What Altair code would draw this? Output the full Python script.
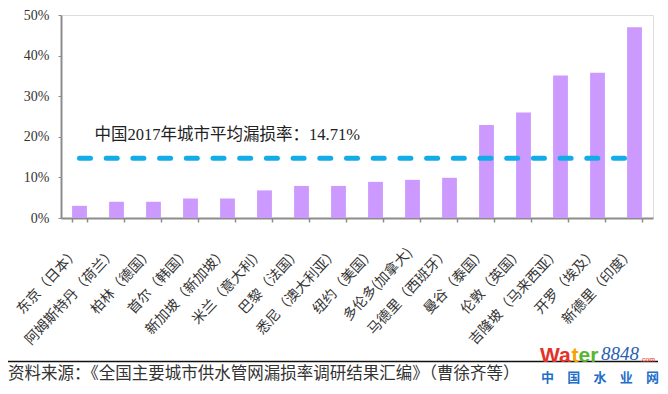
import altair as alt
import pandas as pd

cities = ["东京（日本）", "阿姆斯特丹（荷兰）", "柏林（德国）", "首尔（韩国）",
          "新加坡（新加坡）", "米兰（意大利）", "巴黎（法国）", "悉尼（澳大利亚）",
          "纽约（美国）", "多伦多(加拿大)", "马德里（西班牙）", "曼谷（泰国）",
          "伦敦（英国）", "吉隆坡（马来西亚）", "开罗（埃及）", "新德里（印度）"]
rates = [3, 4, 4, 4.8, 4.8, 6.8, 7.9, 7.9, 8.9, 9.4, 9.9, 22.9, 26, 35.1, 35.8, 47]
avg_rate = 14.71
annotation = "中国2017年城市平均漏损率：14.71%"
annotation_y = 20.4
y_ticks = [0, 10, 20, 30, 40, 50]
source_text = "资料来源：《全国主要城市供水管网漏损率调研结果汇编》（曹徐齐等）"
logo_chars = ["中", "国", "水", "业", "网"]

SERIF = "Liberation Serif, Noto Sans CJK SC"
CJK = "Noto Sans CJK SC"

df = pd.DataFrame({"city": cities, "rate": rates})
one = pd.DataFrame({"a": [0]})

x_enc = alt.X("city:N", sort=None,
              scale=alt.Scale(paddingInner=0.6, paddingOuter=0.3),
              axis=alt.Axis(title=None, labelAngle=313, labelAlign="right",
                            labelBaseline="middle", labelFont=CJK, labelFontSize=14,
                            labelColor="#333333", labelPadding=28, labelOffset=-3,
                            tickBand="extent", tickSize=4, tickColor="#8c8c8c",
                            tickWidth=1.5, domainColor="#8c8c8c", domainWidth=2,
                            labelOverlap=False))
y_enc = alt.Y("rate:Q",
              scale=alt.Scale(domain=[0, 50], nice=False),
              axis=alt.Axis(title=None, values=y_ticks, labelExpr="datum.value + '%'",
                            grid=False, labelFont=SERIF, labelFontSize=14,
                            labelColor="#333333", tickSize=3, tickColor="#8c8c8c",
                            labelPadding=9, domainColor="#8c8c8c", domainWidth=2))

bars = alt.Chart(df).mark_bar(color="#CC99FF").encode(x=x_enc, y=y_enc)

avg_line = alt.Chart(one).mark_rule(
    color="#12ADE8", strokeWidth=5, strokeDash=[11, 15.7], strokeCap="round",
    x2Offset=-10
).encode(x=alt.datum(cities[0]), x2=alt.datum(cities[-1]), y=alt.datum(avg_rate))

ann = alt.Chart(one).mark_text(
    align="left", baseline="middle", dx=15, font=SERIF, fontSize=16.5, color="#222222"
).encode(x=alt.datum(cities[0]), y=alt.datum(annotation_y), text=alt.value(annotation))

footer_line = alt.Chart(one).mark_rule(color="#111111", strokeWidth=1.5).encode(
    x=alt.value(-55), x2=alt.value(597), y=alt.value(346.5))

footer = alt.Chart(one).mark_text(
    align="left", baseline="middle", font=SERIF, fontSize=16.5, color="#333333"
).encode(x=alt.value(-53), y=alt.value(359), text=alt.value(source_text))

logo_parts = []
for txt, xx, col in [("Wa", 479, "#E53228"), ("t", 510.5, "#F5A300"), ("er", 517.5, "#5BB531")]:
    logo_parts.append(alt.Chart(one).mark_text(
        align="left", baseline="alphabetic", font="Liberation Sans", fontWeight="bold",
        fontSize=21, color=col
    ).encode(x=alt.value(xx), y=alt.value(347), text=alt.value(txt)))
logo_parts.append(alt.Chart(one).mark_text(
    align="left", baseline="alphabetic", font="Liberation Serif", fontStyle="italic",
    fontSize=19, color="#2B5FB3"
).encode(x=alt.value(540), y=alt.value(345), text=alt.value("8848")))
logo_parts.append(alt.Chart(one).mark_text(
    align="left", baseline="alphabetic", font="Liberation Sans", fontSize=7,
    color="#E53228"
).encode(x=alt.value(579), y=alt.value(347), text=alt.value(".com")))
for i, ch in enumerate(logo_chars):
    logo_parts.append(alt.Chart(one).mark_text(
        align="center", baseline="middle", font=CJK, fontWeight="bold",
        fontSize=13, color="#1E6FC8"
    ).encode(x=alt.value(486.5 + i * 26.25), y=alt.value(362.5), text=alt.value(ch)))

chart = alt.layer(bars, avg_line, ann, footer_line, footer, *logo_parts).properties(
    width=592, height=203,
    autosize=alt.AutoSizeParams(type="none"),
    padding={"left": 53, "top": 7, "right": 7, "bottom": 167},
).configure_view(stroke=None).configure(background="white")

chart.save("out.html", embed_options={"renderer": "svg", "actions": False})
